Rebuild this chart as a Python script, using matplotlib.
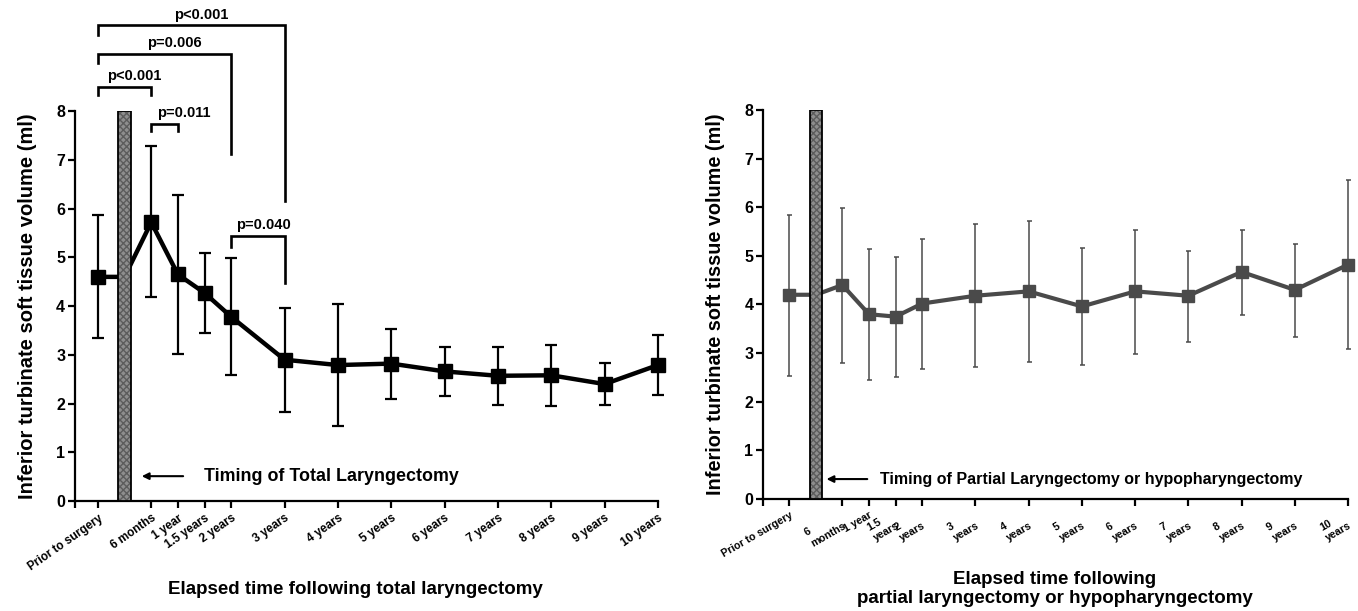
import matplotlib.pyplot as plt
import matplotlib.transforms as mtransforms
import numpy as np

plt.rcParams['font.family'] = ['Liberation Sans', 'DejaVu Sans']
plt.rcParams['font.weight'] = 'bold'

# time points in years; "prior to surgery" sits half a year before the operation
time_pts = [-0.5, 0.5, 1, 1.5, 2, 3, 4, 5, 6, 7, 8, 9, 10]
surgery_time = 0.0

labels_total = ['Prior to surgery', '6 months', '1 year', '1.5 years', '2 years',
                '3 years', '4 years', '5 years', '6 years', '7 years', '8 years',
                '9 years', '10 years']
labels_partial = ['Prior to surgery', '6\nmonths', '1 year', '1.5\nyears', '2\nyears',
                  '3\nyears', '4\nyears', '5\nyears', '6\nyears', '7\nyears',
                  '8\nyears', '9\nyears', '10\nyears']

# total laryngectomy: mean and error bar ends (ml)
total_mean = [4.60, 5.72, 4.65, 4.27, 3.78, 2.90, 2.79, 2.82, 2.66, 2.57, 2.58, 2.40, 2.79]
total_low = [3.35, 4.18, 3.02, 3.45, 2.58, 1.83, 1.54, 2.10, 2.16, 1.98, 1.95, 1.97, 2.17]
total_high = [5.87, 7.28, 6.28, 5.10, 4.98, 3.97, 4.04, 3.54, 3.16, 3.16, 3.21, 2.83, 3.41]

# partial laryngectomy or hypopharyngectomy
partial_mean = [4.20, 4.40, 3.80, 3.75, 4.02, 4.18, 4.27, 3.96, 4.27, 4.18, 4.67, 4.30, 4.82]
partial_low = [2.53, 2.80, 2.44, 2.51, 2.67, 2.71, 2.82, 2.75, 2.99, 3.23, 3.79, 3.33, 3.08]
partial_high = [5.85, 5.98, 5.15, 4.97, 5.35, 5.65, 5.72, 5.17, 5.53, 5.10, 5.53, 5.25, 6.55]

# significance brackets for total laryngectomy:
# (from idx, to idx, label, top, left end, right end, label shift)
brackets = [
    (0, 5, 'p<0.001', 9.76, 9.56, 6.15, 0.18),
    (0, 4, 'p=0.006', 9.17, 8.98, 7.12, 0.18),
    (0, 1, 'p<0.001', 8.49, 8.33, 8.33, 0.18),
    (1, 2, 'p=0.011', 7.73, 7.59, 7.59, 0.36),
    (4, 5, 'p=0.040', 5.44, 5.21, 4.47, 0.1),
]

fig = plt.figure(figsize=(13.58, 6.11), dpi=100)
fig.set_facecolor('white')
ax1 = fig.add_axes([0.0552, 0.180, 0.4293, 0.638])
ax2 = fig.add_axes([0.5619, 0.1833, 0.4308, 0.6367])


def draw_panel(ax, mean, low, high, color, lw, ms, elw, cap, xmin, labels, rot, tfs):
    mean = np.array(mean)
    yerr = [mean - np.array(low), np.array(high) - mean]
    ax.errorbar(time_pts, mean, yerr=yerr, fmt='none', ecolor=color, elinewidth=elw,
                capsize=cap, capthick=elw, zorder=2, clip_on=False)
    xs = [time_pts[0], surgery_time] + time_pts[1:]
    ys = [mean[0], mean[0]] + list(mean[1:])
    ax.plot(xs, ys, color=color, lw=lw, zorder=3, clip_on=False)
    ax.plot(time_pts, mean, 's', color=color, ms=ms, zorder=4, clip_on=False)
    # surgery marker bar
    ax.bar(surgery_time, 8, width=0.23, color='#8e8e8e', edgecolor='#5c5c5c', hatch='xxxxx',
           linewidth=0, zorder=5)
    ax.bar(surgery_time, 8, width=0.23, fill=False, edgecolor='black', linewidth=1.3, zorder=6)

    ax.set_xlim(xmin, 10)
    ax.set_ylim(0, 8)
    ax.set_yticks(range(0, 9))
    ax.set_xticks([xmin] + time_pts)
    ax.set_xticklabels([''] + labels, rotation=rot, ha='right', va='top',
                       rotation_mode='anchor', fontsize=tfs, fontweight='bold',
                       multialignment='left', linespacing=1.3)
    for s in ['top', 'right']:
        ax.spines[s].set_visible(False)
    for s in ['left', 'bottom']:
        ax.spines[s].set_linewidth(1.6)
    ax.tick_params(axis='both', width=1.6, length=5, direction='out')
    ax.tick_params(axis='y', labelsize=11.5, pad=2)
    ax.tick_params(axis='x', pad=3)
    for t in ax.get_yticklabels():
        t.set_fontweight('bold')


draw_panel(ax1, total_mean, total_low, total_high, 'black', 3.2, 10, 1.6, 4.5, -0.93,
           labels_total, 35, 8.5)
draw_panel(ax2, partial_mean, partial_low, partial_high, '#4a4a4a', 3.0, 9, 1.1, 1.8, -0.99,
           labels_partial, 30, 7.7)

# nudge the two-line labels left so the lower line ends at its tick
shift = mtransforms.ScaledTranslation(-0.06, 0, fig.dpi_scale_trans)
for lab in ax2.get_xticklabels():
    if '\n' in lab.get_text():
        lab.set_transform(lab.get_transform() + shift)

for i, j, txt, top, yl, yr, dx in brackets:
    x1, x2 = time_pts[i], time_pts[j]
    ax1.plot([x1, x1, x2, x2], [yl, top, top, yr], color='black', lw=1.9,
             clip_on=False, zorder=7, solid_joinstyle='miter')
    ax1.text((x1 + x2) / 2 + dx, top + 0.08, txt, ha='center', va='bottom', fontsize=10.5,
             fontweight='bold', clip_on=False)

ax1.annotate('', xy=(0.27, 0.51), xytext=(1.15, 0.51),
             arrowprops=dict(arrowstyle='-|>', color='black', lw=1.5, mutation_scale=10))
ax1.text(1.49, 0.51, 'Timing of Total Laryngectomy', va='center', ha='left',
         fontsize=12.9, fontweight='bold')
ax2.annotate('', xy=(0.15, 0.41), xytext=(1.02, 0.41),
             arrowprops=dict(arrowstyle='-|>', color='black', lw=1.5, mutation_scale=10))
ax2.text(1.21, 0.41, 'Timing of Partial Laryngectomy or hypopharyngectomy', va='center',
         ha='left', fontsize=11.5, fontweight='bold')

ax1.set_ylabel('Inferior turbinate soft tissue volume (ml)', fontsize=14.5, fontweight='bold',
               labelpad=14)
ax2.set_ylabel('Inferior turbinate soft tissue volume (ml)', fontsize=14.3, fontweight='bold',
               labelpad=14)
fig.text(355 / 1358, 1 - 590 / 611, 'Elapsed time following total laryngectomy',
         ha='center', va='center', fontsize=13.5, fontweight='bold')
fig.text(1055 / 1358, 1 - 589 / 611,
         'Elapsed time following\npartial laryngectomy or hypopharyngectomy',
         ha='center', va='center', fontsize=13.5, fontweight='bold', linespacing=1.2)

fig.savefig('out.png', dpi=100, facecolor='white')
